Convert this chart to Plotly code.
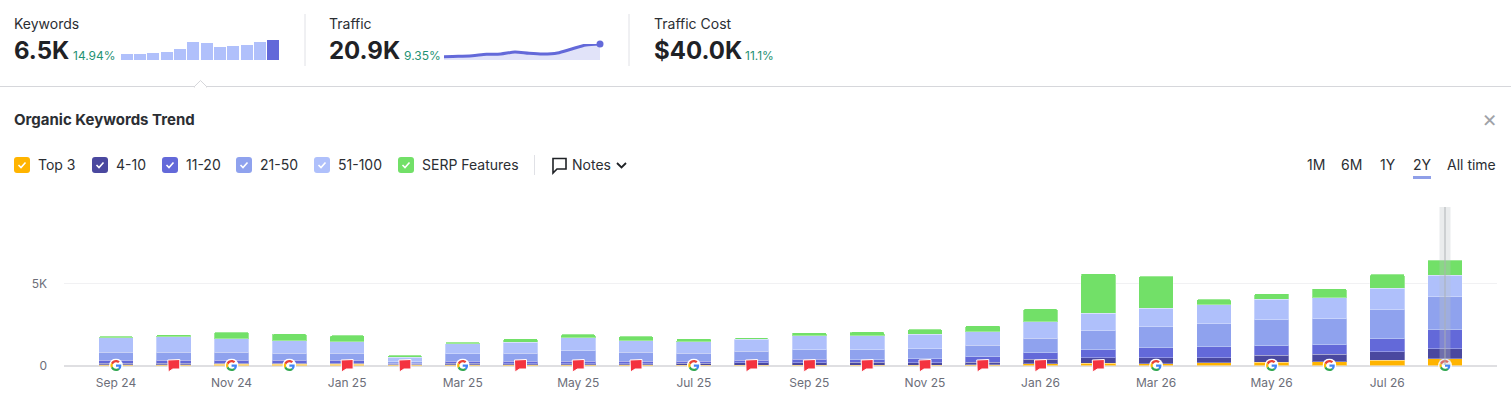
import base64
import plotly.graph_objects as go

W = 1511
H = 413

months = ["Sep 24", "Oct 24", "Nov 24", "Dec 24", "Jan 25", "Feb 25", "Mar 25", "Apr 25",
          "May 25", "Jun 25", "Jul 25", "Aug 25", "Sep 25", "Oct 25", "Nov 25", "Dec 25",
          "Jan 26", "Feb 26", "Mar 26", "Apr 26", "May 26", "Jun 26", "Jul 26", "Aug 26"]
top3 = [60, 60, 80, 80, 80, 40, 40, 40, 40, 40, 20, 20, 20, 20, 20, 40, 100, 145, 120, 165, 185, 225, 325, 410]
pos4_10 = [80, 80, 60, 60, 60, 40, 100, 80, 80, 80, 120, 145, 145, 165, 145, 165, 285, 345, 365, 325, 430, 450, 530, 630]
pos11_20 = [185, 185, 185, 185, 185, 60, 120, 145, 145, 145, 120, 165, 225, 165, 245, 325, 390, 490, 610, 650, 590, 610, 795, 1160]
pos21_50 = [490, 490, 490, 430, 430, 100, 450, 490, 630, 550, 490, 550, 570, 610, 610, 715, 900, 1140, 1285, 1430, 1610, 1590, 1775, 2020]
pos51_100 = [900, 960, 835, 755, 695, 265, 610, 670, 795, 695, 695, 715, 875, 875, 900, 835, 1020, 1080, 1140, 1140, 1245, 1265, 1325, 1325]
serp = [80, 120, 390, 430, 390, 120, 120, 225, 225, 285, 205, 100, 185, 225, 305, 365, 775, 2430, 1960, 345, 345, 570, 855, 920]
# G = google update, F = red note flag, "" = nothing
note_marks = ["G", "F", "G", "G", "F", "F", "G", "F", "F", "F", "G", "F", "F", "F", "F", "F", "F", "F", "G", "", "G", "G", "", "G"]

tick_months = months[::2]
y_ticks = [0, 5000]
y_labels = ["0", "5K"]

keywords_spark = [2050, 2060, 2170, 2490, 3580, 5740, 5530, 4120, 4440, 4770, 5740, 6500]
traffic_spark = [4350, 4785, 5660, 7400, 7830, 10440, 8700, 7830, 9135, 14355, 19575, 20900]

series_names = ["Top 3", "4-10", "11-20", "21-50", "51-100", "SERP Features"]
series_values = [top3, pos4_10, pos11_20, pos21_50, pos51_100, serp]
series_colors = ["#ffb400", "#4a489f", "#6369d9", "#8fa2ee", "#afc0fb", "#72e068"]
legend_boxes = [14, 92, 162, 236, 314, 398]

ranges = ["1M", "6M", "1Y", "2Y", "All time"]
range_x = [1307, 1341, 1380, 1413, 1447]

FONT = "Inter"
DARK = "#2b2e33"
GREEN = "#1f9274"


def px(x):
    return x / W


def py(y):
    return 1 - y / H


def paper_path(points, close=True):
    s = "M" + " L".join(f"{px(x):.5f},{py(y):.5f}" for x, y in points)
    return s + (" Z" if close else "")


def round_box(x, y, w, h, r=3):
    # rounded rect in paper coords
    x0, x1, y0, y1 = px(x), px(x + w), py(y), py(y + h)
    rx, ry = px(r), r / H
    return (f"M{x0 + rx},{y0} L{x1 - rx},{y0} Q{x1},{y0} {x1},{y0 - ry} "
            f"L{x1},{y1 + ry} Q{x1},{y1} {x1 - rx},{y1} L{x0 + rx},{y1} "
            f"Q{x0},{y1} {x0},{y1 + ry} L{x0},{y0 - ry} Q{x0},{y0} {x0 + rx},{y0} Z")


def label(text, x, y, size=14, color=DARK, bold=False, anchor="left"):
    fig.add_annotation(text=f"<b>{text}</b>" if bold else text, x=px(x), y=py(y), xref="paper", yref="paper",
                       xanchor=anchor, yanchor="middle", showarrow=False, borderpad=0, borderwidth=0,
                       font=dict(family=FONT, size=size, color=color))


def line(x0, y0, x1, y1, color, width=1):
    fig.add_shape(type="line", xref="paper", yref="paper", x0=px(x0), y0=py(y0), x1=px(x1), y1=py(y1),
                  line=dict(color=color, width=width))


fig = go.Figure()

for name, vals, col in zip(series_names, series_values, series_colors):
    fig.add_trace(go.Bar(x=months, y=vals, name=name, width=0.6, showlegend=False,
                         marker=dict(color=col, line=dict(color="rgba(255,255,255,0.3)", width=1))))

fig.add_trace(go.Bar(x=list(range(len(keywords_spark))), y=keywords_spark, xaxis="x2", yaxis="y2", width=0.9,
                     showlegend=False,
                     marker=dict(color=["#b0c0fb"] * 11 + ["#6369d9"], line=dict(width=0), cornerradius=0)))
fig.add_trace(go.Scatter(x=list(range(len(traffic_spark))), y=traffic_spark, xaxis="x3", yaxis="y3",
                         mode="lines", fill="tozeroy", fillcolor="#e1e3f9", showlegend=False,
                         line=dict(color="#6369d9", width=3, shape="spline", smoothing=0.8)))
fig.add_trace(go.Scatter(x=[len(traffic_spark) - 1], y=traffic_spark[-1:], xaxis="x3", yaxis="y3",
                         mode="markers", showlegend=False, cliponaxis=False,
                         marker=dict(color="#6369d9", size=7)))

# header row
label("Keywords", 14, 23.5)
label("6.5K", 14, 51, size=24, color="#1f2226", bold=True)
label("14.94%", 73, 56, size=12, color=GREEN)
label("Traffic", 329, 23.5)
label("20.9K", 329, 51, size=24, color="#1f2226", bold=True)
label("9.35%", 404, 56, size=12, color=GREEN)
label("Traffic Cost", 654, 23.5)
label("$40.0K", 654, 51, size=24, color="#1f2226", bold=True)
label("11.1%", 745, 56, size=12, color=GREEN)
line(305, 14, 305, 66, "#e0e1e6")
line(629, 14, 629, 66, "#e0e1e6")
line(0, 86.5, W, 86.5, "#d6d7db")
fig.add_shape(type="path", xref="paper", yref="paper", layer="above",
              path=paper_path([(194, 87), (200.5, 80.5), (207, 87)]),
              fillcolor="white", line=dict(color="#d6d7db", width=1))
line(195, 87, 206, 87, "white", 2)

label("Organic Keywords Trend", 14, 119, size=15, bold=True)
label("×", 1489, 118.5, size=23, color="#a0a2a8", anchor="center")

# custom legend
for x, name, col in zip(legend_boxes, series_names, series_colors):
    fig.add_shape(type="path", xref="paper", yref="paper", path=round_box(x, 157, 16, 16),
                  fillcolor=col, line=dict(width=0))
    fig.add_shape(type="path", xref="paper", yref="paper",
                  path=paper_path([(x + 4.5, 165), (x + 7, 167.5), (x + 11.5, 162.5)], close=False),
                  line=dict(color="white", width=1.6))
    label(name, x + 24, 165)

line(534.5, 155, 534.5, 175, "#e0e1e6")
fig.add_shape(type="path", xref="paper", yref="paper",
              path=paper_path([(553, 158.5), (566, 158.5), (566, 169), (557, 169), (553, 173)]),
              line=dict(color="#1f2226", width=1.6))
label("Notes", 572, 165)
fig.add_shape(type="path", xref="paper", yref="paper",
              path=paper_path([(617, 163), (621.5, 167.5), (626, 163)], close=False),
              line=dict(color="#1f2226", width=1.8))

for x, name in zip(range_x, ranges):
    label(name, x, 165)
line(1413, 177.5, 1431, 177.5, "#8f9fe8", 3)

# hover band on the last bar
fig.add_shape(type="rect", xref="x", yref="paper", xsizemode="pixel", xanchor=months[-1],
              x0=-5.5, x1=5.5, y0=py(365), y1=py(207), layer="above",
              fillcolor="rgba(190,195,198,0.32)", line=dict(width=0))
fig.add_shape(type="rect", xref="x", yref="paper", xsizemode="pixel", xanchor=months[-1],
              x0=-1, x1=1, y0=py(365), y1=py(207), layer="above",
              fillcolor="rgba(170,175,178,0.45)", line=dict(width=0))

G_SVG = ('<svg xmlns="http://www.w3.org/2000/svg" viewBox="-6 -6 60 60">'
         '<circle cx="24" cy="24" r="30" fill="#fff"/>'
         '<path fill="#EA4335" d="M24 9.5c3.54 0 6.71 1.22 9.21 3.6l6.85-6.85C35.9 2.38 30.47 0 24 0 14.62 0 6.51 5.38 2.56 13.22l7.98 6.19C12.43 13.72 17.74 9.5 24 9.5z"/>'
         '<path fill="#4285F4" d="M46.98 24.55c0-1.57-.15-3.09-.38-4.55H24v9.02h12.94c-.58 2.96-2.26 5.48-4.78 7.18l7.73 6c4.51-4.18 7.09-10.36 7.09-15.65z"/>'
         '<path fill="#FBBC05" d="M10.53 28.59c-.48-1.45-.76-2.99-.76-4.59s.27-3.14.76-4.59l-7.98-6.19C.92 16.46 0 20.12 0 24c0 3.88.92 7.54 2.56 10.78l7.97-6.19z"/>'
         '<path fill="#34A853" d="M24 48c6.48 0 11.93-2.13 16.08-5.81l-7.73-6c-2.15 1.45-4.92 2.3-8.35 2.3-6.26 0-11.57-4.22-13.46-9.91l-7.98 6.19C6.51 42.62 14.62 48 24 48z"/>'
         '</svg>')
g_uri = "data:image/svg+xml;base64," + base64.b64encode(G_SVG.encode()).decode()

# yref paper so the icons are not clipped at the zero line
for m, mark in zip(months, note_marks):
    if mark == "G":
        fig.add_layout_image(source=g_uri, xref="x", yref="paper", x=m, y=py(365.5), sizex=0.24, sizey=14 / H,
                             xanchor="center", yanchor="middle", layer="above", sizing="contain")
    elif mark == "F":
        fig.add_shape(type="path", xref="x", yref="paper", xsizemode="pixel", ysizemode="pixel",
                      xanchor=m, yanchor=py(365.5), layer="above",
                      path="M-6,5.5 L6,6 L6,-3.5 L-1,-3.5 L-5.5,-6.5 Z",
                      fillcolor="#f4333f", line=dict(color="white", width=1))

y_top = 9700
fig.update_layout(
    width=W, height=H, autosize=False,
    margin=dict(l=0, r=0, t=0, b=0, autoexpand=False),
    paper_bgcolor="white", plot_bgcolor="white",
    barmode="stack", barcornerradius=2, showlegend=False,
    font=dict(family=FONT, size=12, color="#6c6e79"),
    xaxis=dict(domain=[px(64), px(1497)], type="category", categoryorder="array", categoryarray=months,
               range=[-0.9, 23.9], tickmode="array", tickvals=tick_months, ticktext=tick_months,
               showgrid=False, zeroline=False, showline=False, ticks="",
               ticklabelstandoff=8, anchor="y", tickfont=dict(size=12, color="#6c6e79")),
    yaxis=dict(domain=[py(365.5), py(365.5 - y_top / 61.3)], range=[0, y_top], tickmode="array",
               tickvals=y_ticks, ticktext=y_labels, showgrid=True, gridcolor="#f1f1f3", gridwidth=1,
               zeroline=True, zerolinecolor="#dfdfe2", zerolinewidth=2, showline=False, ticks="",
               ticklabelstandoff=16, tickfont=dict(size=12, color="#6c6e79")),
    xaxis2=dict(domain=[px(120), px(280)], range=[-0.5, 11.5], visible=False, anchor="y2"),
    yaxis2=dict(domain=[py(60), py(40)], range=[0, 6500], visible=False, anchor="x2"),
    xaxis3=dict(domain=[px(444), px(600)], range=[0, 11], visible=False, anchor="y3"),
    yaxis3=dict(domain=[py(60), py(44)], range=[0, 20900], visible=False, anchor="x3"),
)

fig.write_html("out.html", config={"displayModeBar": False}, post_script="document.body.style.margin='0';")
